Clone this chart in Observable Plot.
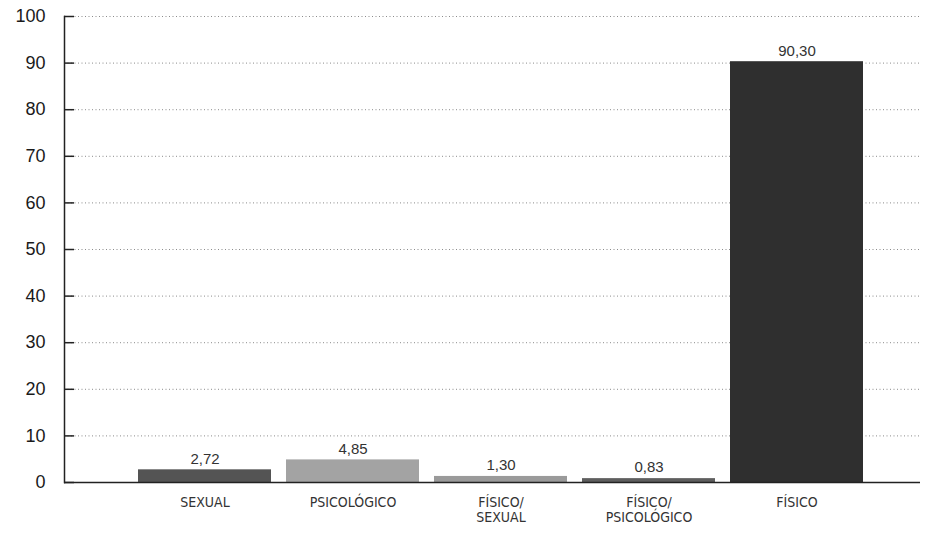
<!DOCTYPE html>
<html>
<head>
<meta charset="utf-8">
<script src="https://cdn.jsdelivr.net/npm/d3@7"></script>
<script src="https://cdn.jsdelivr.net/npm/@observablehq/plot@0.6"></script>
<style>
  html, body { margin: 0; padding: 0; background: #fff; }
  svg { display: block; }
</style>
</head>
<body>
<div id="chart"></div>
<script>
const categories = ["SEXUAL", "PSICOLÓGICO", "FÍSICO/SEXUAL", "FÍSICO/PSICOLÓGICO", "FÍSICO"];
const tickLabels = ["SEXUAL", "PSICOLÓGICO", "FÍSICO/\nSEXUAL", "FÍSICO/\nPSICOLÓGICO", "FÍSICO"];
const values = [2.72, 4.85, 1.30, 0.83, 90.30];
const barColors = ["#545454", "#a3a3a3", "#9a9a9a", "#5e5e5e", "#2f2f2f"];
const yTicks = [0, 10, 20, 30, 40, 50, 60, 70, 80, 90, 100];

const data = categories.map((c, i) => ({cat: c, value: values[i], color: barColors[i]}));
const labelOf = new Map(categories.map((c, i) => [c, tickLabels[i]]));
const fmt = v => v.toFixed(2).replace(".", ",");

const chart = Plot.plot({
  width: 934,
  height: 535,
  marginTop: 16,
  marginBottom: 53,
  marginLeft: 64,
  marginRight: 14,
  style: {fontFamily: "'Liberation Sans', Arial, sans-serif", background: "#fff", color: "#222"},
  x: {domain: categories, range: [131, 871], paddingInner: 0.1, paddingOuter: 0.05},
  y: {domain: [0, 100]},
  marks: [
    Plot.gridY(yTicks, {stroke: "#777", strokeOpacity: 0.85, strokeDasharray: "1,2.5", strokeWidth: 1}),
    Plot.barY(data, {x: "cat", y: "value", fill: "color"}),
    Plot.ruleY([0], {stroke: "#222", strokeWidth: 1.5}),
    Plot.frame({anchor: "left", stroke: "#222", strokeWidth: 1.5}),
    Plot.axisY(yTicks, {tickSize: 10, dx: 10, text: null, label: null, stroke: "#222", strokeWidth: 1.5}),
    Plot.axisY(yTicks, {tickSize: 0, tickPadding: 19, fontSize: 18, fill: "#1a1a1a", label: null}),
    Plot.axisX({tickSize: 0, tickPadding: 13, fontSize: 14, fill: "#333",
      fontFamily: "'Liberation Sans Narrow', 'DejaVu Sans Condensed', sans-serif",
      tickFormat: d => labelOf.get(d), label: null, lineHeight: 1.12}),
    Plot.text(data, {x: "cat", y: "value", text: d => fmt(d.value), dy: -11, fontSize: 15, fill: "#333"})
  ]
});
document.getElementById("chart").append(chart);
</script>
</body>
</html>
